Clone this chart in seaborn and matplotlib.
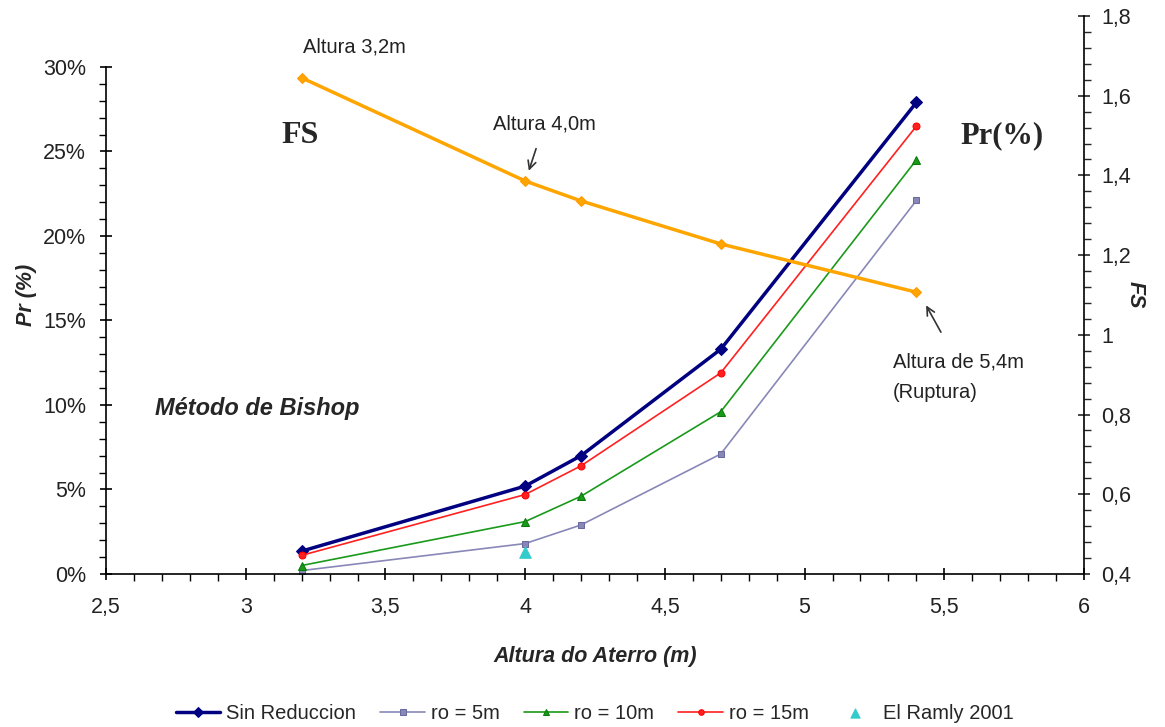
import numpy as np
import pandas as pd
import seaborn as sns
import matplotlib.pyplot as plt
from matplotlib.ticker import MultipleLocator, FixedLocator, FuncFormatter

# Data
altura = [3.2, 4.0, 4.2, 4.7, 5.4]
pr_sin_reduccion = [1.35, 5.2, 7.0, 13.3, 27.9]
pr_ro5 = [0.2, 1.8, 2.9, 7.1, 22.1]
pr_ro10 = [0.5, 3.1, 4.6, 9.6, 24.5]
pr_ro15 = [1.1, 4.7, 6.4, 11.9, 26.5]
el_ramly_x = [4.0]
el_ramly_pr = [1.3]
fs_values = [1.645, 1.386, 1.336, 1.228, 1.107]

sns.set_style("ticks")
plt.rcParams['font.family'] = ['Liberation Sans', 'DejaVu Sans']

df = pd.DataFrame({"altura": altura,
                   "Sin Reduccion": pr_sin_reduccion,
                   "ro = 5m": pr_ro5,
                   "ro = 10m": pr_ro10,
                   "ro = 15m": pr_ro15,
                   "FS": fs_values})

fig = plt.figure(figsize=(11.65, 7.27), dpi=100)
ax = fig.add_axes([0.091, 0.2105, 0.8395, 0.7675])
ax2 = ax.twinx()

# Pr series on the left axis
sns.lineplot(data=df, x="altura", y="Sin Reduccion", ax=ax, color="#000080", lw=2.5,
             marker="D", markersize=6, markeredgecolor="#000080", label="Sin Reduccion")
sns.lineplot(data=df, x="altura", y="ro = 5m", ax=ax, color="#8888b8", lw=1.2,
             marker="s", markersize=5, markeredgecolor="#6a6aa0", label="ro = 5m")
sns.lineplot(data=df, x="altura", y="ro = 10m", ax=ax, color="#1a9a1a", lw=1.2,
             marker="^", markersize=6, markeredgecolor="#0a7a0a", label="ro = 10m")
sns.lineplot(data=df, x="altura", y="ro = 15m", ax=ax, color="#ff2020", lw=1.2,
             marker="o", markersize=5, markeredgecolor="#ff0000", label="ro = 15m")
sns.scatterplot(x=el_ramly_x, y=el_ramly_pr, ax=ax, color="#33cccc", marker="^", s=70,
                edgecolor="#33cccc", label="El Ramly 2001", zorder=5)

# FS on the right axis
sns.lineplot(data=df, x="altura", y="FS", ax=ax2, color="#ffa500", lw=2.5,
             marker="D", markersize=5, markeredgecolor="#ff9900", legend=False)

# Left axis (stops at 30% while the plot area goes higher)
ymax_left = 30 * 558 / 507
ax.set_xlim(2.5, 6)
ax.set_ylim(0, ymax_left)
ax.yaxis.set_major_locator(FixedLocator(np.arange(0, 31, 5)))
ax.yaxis.set_minor_locator(FixedLocator(np.arange(0, 31, 1)))
ax.yaxis.set_major_formatter(FuncFormatter(lambda v, p: f"{v:.0f}%"))
ax.spines['left'].set_bounds(0, 30)
ax.xaxis.set_major_locator(MultipleLocator(0.5))
ax.xaxis.set_minor_locator(MultipleLocator(0.1))
ax.xaxis.set_major_formatter(FuncFormatter(lambda v, p: (f"{v:g}").replace(".", ",")))
ax.spines['top'].set_visible(False)
ax.spines['right'].set_visible(False)
ax.tick_params(axis='both', which='major', direction='inout', length=9, width=1.2,
               labelsize=15.5, colors='black', labelcolor='#222222')
ax.tick_params(axis='y', which='major', pad=10)
ax.tick_params(axis='x', which='major', pad=12)
ax.tick_params(axis='both', which='minor', direction='out', length=5, width=1, colors='black')
ax.set_xlabel("Altura do Aterro (m)", fontsize=15.5, fontstyle='italic', fontweight='bold',
              labelpad=20)
ax.set_ylabel("Pr (%)", fontsize=15.5, fontstyle='italic', fontweight='bold', labelpad=4)

# Right axis
ax2.set_ylim(0.4, 1.8)
ax2.yaxis.set_major_locator(MultipleLocator(0.2))
ax2.yaxis.set_minor_locator(MultipleLocator(0.04))
ax2.yaxis.set_major_formatter(FuncFormatter(lambda v, p: (f"{v:.1f}".rstrip('0').rstrip('.')).replace(".", ",")))
ax2.spines['top'].set_visible(False)
ax2.spines['left'].set_visible(False)
ax2.spines['bottom'].set_visible(False)
ax2.tick_params(axis='y', which='major', direction='inout', length=9, width=1.2,
                labelsize=15.5, labelcolor='#222222', pad=8)
ax2.tick_params(axis='y', which='minor', direction='out', length=5, width=1)
ax2.set_ylabel("FS", fontsize=15.5, fontstyle='italic', fontweight='bold', rotation=270,
               labelpad=10)
for a in (ax, ax2):
    for s in a.spines.values():
        s.set_linewidth(1.2)
        s.set_color('black')

# Annotations
ax2.text(3.205, 1.722, "Altura 3,2m", fontsize=14.5, ha='left', va='center', color='#222222')
ax2.annotate("Altura 4,0m", xy=(4.01, 1.405), xytext=(4.068, 1.529), fontsize=14.5,
             ha='center', va='center', color='#222222',
             arrowprops=dict(arrowstyle='->', color='#333333', lw=1.2, shrinkA=9, shrinkB=2))
ax2.annotate("Altura de 5,4m\n(Ruptura)", xy=(5.43, 1.08), xytext=(5.317, 0.894), fontsize=14.5,
             ha='left', va='center', color='#222222', linespacing=1.75,
             arrowprops=dict(arrowstyle='->', color='#333333', lw=1.2, shrinkA=14, shrinkB=2,
                             relpos=(0.45, 1.0)))
ax2.text(3.194, 1.5, "FS", fontsize=23, fontweight='bold', family='Liberation Serif',
         ha='center', va='center')
ax2.text(5.705, 1.5, "Pr(%)", fontsize=22, fontweight='bold', family='Liberation Serif',
         ha='center', va='center')
ax.text(2.675, 9.8, "Método de Bishop", fontsize=17, fontweight='bold', fontstyle='italic',
        ha='left', va='center')

# Legend at the bottom
ax.legend(loc='upper center', bbox_to_anchor=(0.5, -0.2), ncol=5, frameon=False,
          fontsize=14.5, handlelength=2.2, columnspacing=1.2, handletextpad=0.3,
          markerscale=0.8)

fig.savefig("out.png", dpi=100)
